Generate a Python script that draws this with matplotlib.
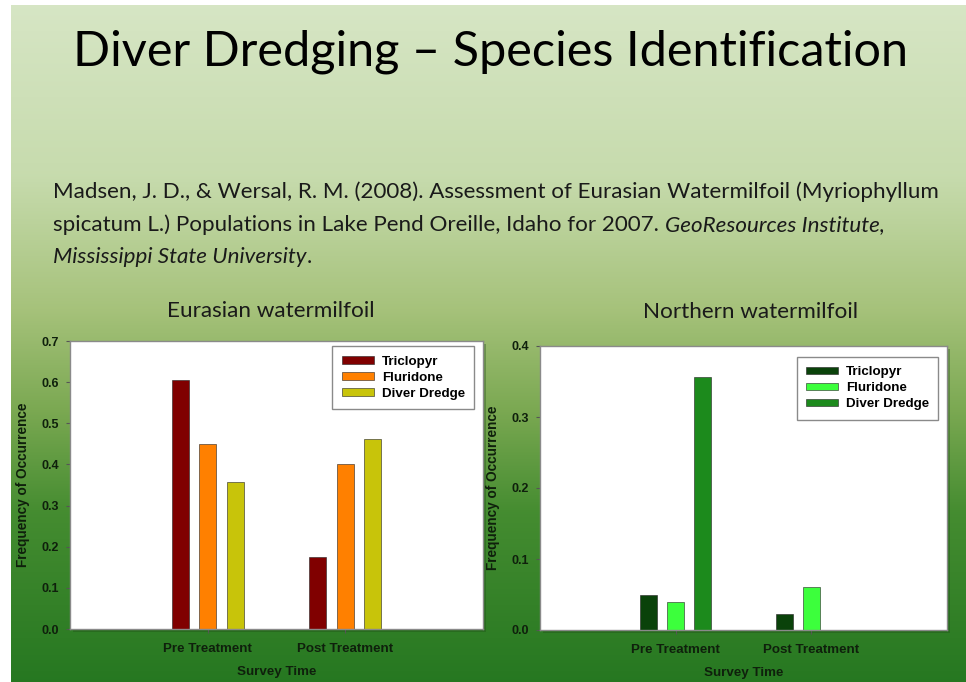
import numpy as np
import matplotlib
matplotlib.use('Agg')
import matplotlib.pyplot as plt
from matplotlib.colors import LinearSegmentedColormap
from matplotlib.patches import Rectangle

# data
groups = ['Pre Treatment', 'Post Treatment']
treatments = ['Triclopyr', 'Fluridone', 'Diver Dredge']

eurasian = {
    'Triclopyr': [0.605, 0.175],
    'Fluridone': [0.450, 0.401],
    'Diver Dredge': [0.357, 0.461],
}
northern = {
    'Triclopyr': [0.050, 0.023],
    'Fluridone': [0.040, 0.060],
    'Diver Dredge': [0.357, 0.0],
}

eurasian_colors = ['#800000', '#ff8000', '#c8c40a']
northern_colors = ['#0a420a', '#3cff3c', '#1c8a1c']

title = 'Diver Dredging \u2013 Species Identification'
cite_1 = 'Madsen, J. D., & Wersal, R. M. (2008). Assessment of Eurasian Watermilfoil (Myriophyllum'
cite_2 = 'spicatum L.) Populations in Lake Pend Oreille, Idaho for 2007. '
cite_2_it = 'GeoResources Institute,'
cite_3_it = 'Mississippi State University'

W, H = 966, 682
fig = plt.figure(figsize=(W / 100, H / 100), dpi=100)
fig.patch.set_facecolor('white')

# slide background gradient
bg = fig.add_axes([11 / W, 0, 955 / W, 677 / H], zorder=-10)
grad_cmap = LinearSegmentedColormap.from_list('slide', [
    (0.00, (0.84, 0.90, 0.77)),
    (0.25, (0.78, 0.86, 0.68)),
    (0.45, (0.65, 0.76, 0.48)),
    (0.60, (0.48, 0.66, 0.32)),
    (0.75, (0.27, 0.55, 0.19)),
    (1.00, (0.15, 0.47, 0.13)),
])
bg.imshow(np.linspace(0, 1, 256).reshape(-1, 1), aspect='auto', cmap=grad_cmap,
          extent=(0, 1, 0, 1))
bg.set_axis_off()

slide_font = 'Lato'
fig.text(490 / W, 1 - 52 / H, title, ha='center', va='center', fontsize=35,
         family=slide_font, color='black')

cite_kw = dict(fontsize=16.1, family=slide_font, color='#1a1a1a', va='center')
fig.text(53 / W, 1 - 192 / H, cite_1, **cite_kw)
t2 = fig.text(53 / W, 1 - 225 / H, cite_2, **cite_kw)
t3 = fig.text(53 / W, 1 - 257 / H, cite_3_it, style='italic', **cite_kw)
renderer = fig.canvas.get_renderer()
e2 = t2.get_window_extent(renderer)
fig.text(e2.x1 / W, 1 - 225 / H, cite_2_it, style='italic', **cite_kw)
e3 = t3.get_window_extent(renderer)
fig.text(e3.x1 / W, 1 - 257 / H, '.', **cite_kw)

fig.text(271 / W, 1 - 311 / H, 'Eurasian watermilfoil', ha='center', va='center',
         fontsize=16.2, family=slide_font, color='#1a1a1a')
fig.text(751 / W, 1 - 312 / H, 'Northern watermilfoil', ha='center', va='center',
         fontsize=16.2, family=slide_font, color='#1a1a1a')

chart_font = 'Liberation Sans'
ink = '#0f200c'


def bar_panel(rect, data, colors, ymax, yticks, legend_anchor):
    # drop shadow behind the plot area
    fig.patches.append(Rectangle((rect[0] + 3 / W, rect[1] - 3 / H), rect[2], rect[3],
                                 transform=fig.transFigure, facecolor='#1d4a16',
                                 alpha=0.35, edgecolor='none', zorder=-5))
    ax = fig.add_axes(rect)
    ax.set_facecolor('white')
    x = np.arange(len(groups))
    width = 0.125
    offsets = [-0.2, 0.0, 0.2]
    for name, off, col in zip(treatments, offsets, colors):
        ax.bar(x + off, data[name], width, color=col, edgecolor='#222222',
               linewidth=0.4, label=name)
    ax.set_xlim(-1, 2)
    ax.set_ylim(0, ymax)
    ax.set_yticks(yticks)
    ax.set_yticklabels([f'{v:.1f}' for v in yticks])
    ax.set_xticks(x)
    ax.set_xticklabels(groups)
    for s in ax.spines.values():
        s.set_color('#8a8a8a')
        s.set_linewidth(1.0)
    ax.tick_params(axis='both', direction='out', length=3, width=0.8, color='#555555',
                   labelcolor=ink)
    for lab in ax.get_xticklabels():
        lab.set_family(chart_font)
        lab.set_fontweight('bold')
        lab.set_fontsize(9.6)
    for lab in ax.get_yticklabels():
        lab.set_family(chart_font)
        lab.set_fontweight('bold')
        lab.set_fontsize(9)
    ax.tick_params(axis='x', pad=7)
    ax.tick_params(axis='y', pad=5)
    ax.set_xlabel('Survey Time', family=chart_font, fontweight='bold', fontsize=9.6,
                  color=ink, labelpad=8)
    ax.set_ylabel('Frequency of Occurrence', family=chart_font, fontweight='bold',
                  fontsize=9.8, color=ink, labelpad=8)
    leg = ax.legend(loc='upper right', bbox_to_anchor=legend_anchor, fancybox=False,
                    framealpha=1, edgecolor='#8a8a8a', handlelength=2.4,
                    handleheight=0.5, borderpad=0.7, labelspacing=0.3,
                    handletextpad=0.6,
                    prop={'family': chart_font, 'weight': 'bold', 'size': 9.6})
    leg.get_frame().set_linewidth(1.0)
    return ax


bar_panel([70 / W, 1 - 629 / H, 413 / W, 288 / H], eurasian, eurasian_colors,
          0.7, [0.0, 0.1, 0.2, 0.3, 0.4, 0.5, 0.6, 0.7], (0.995, 1.005))
bar_panel([540 / W, 1 - 630 / H, 407 / W, 284 / H], northern, northern_colors,
          0.4, [0.0, 0.1, 0.2, 0.3, 0.4], (0.995, 0.985))

fig.savefig('out.png', dpi=100, facecolor=fig.get_facecolor())
